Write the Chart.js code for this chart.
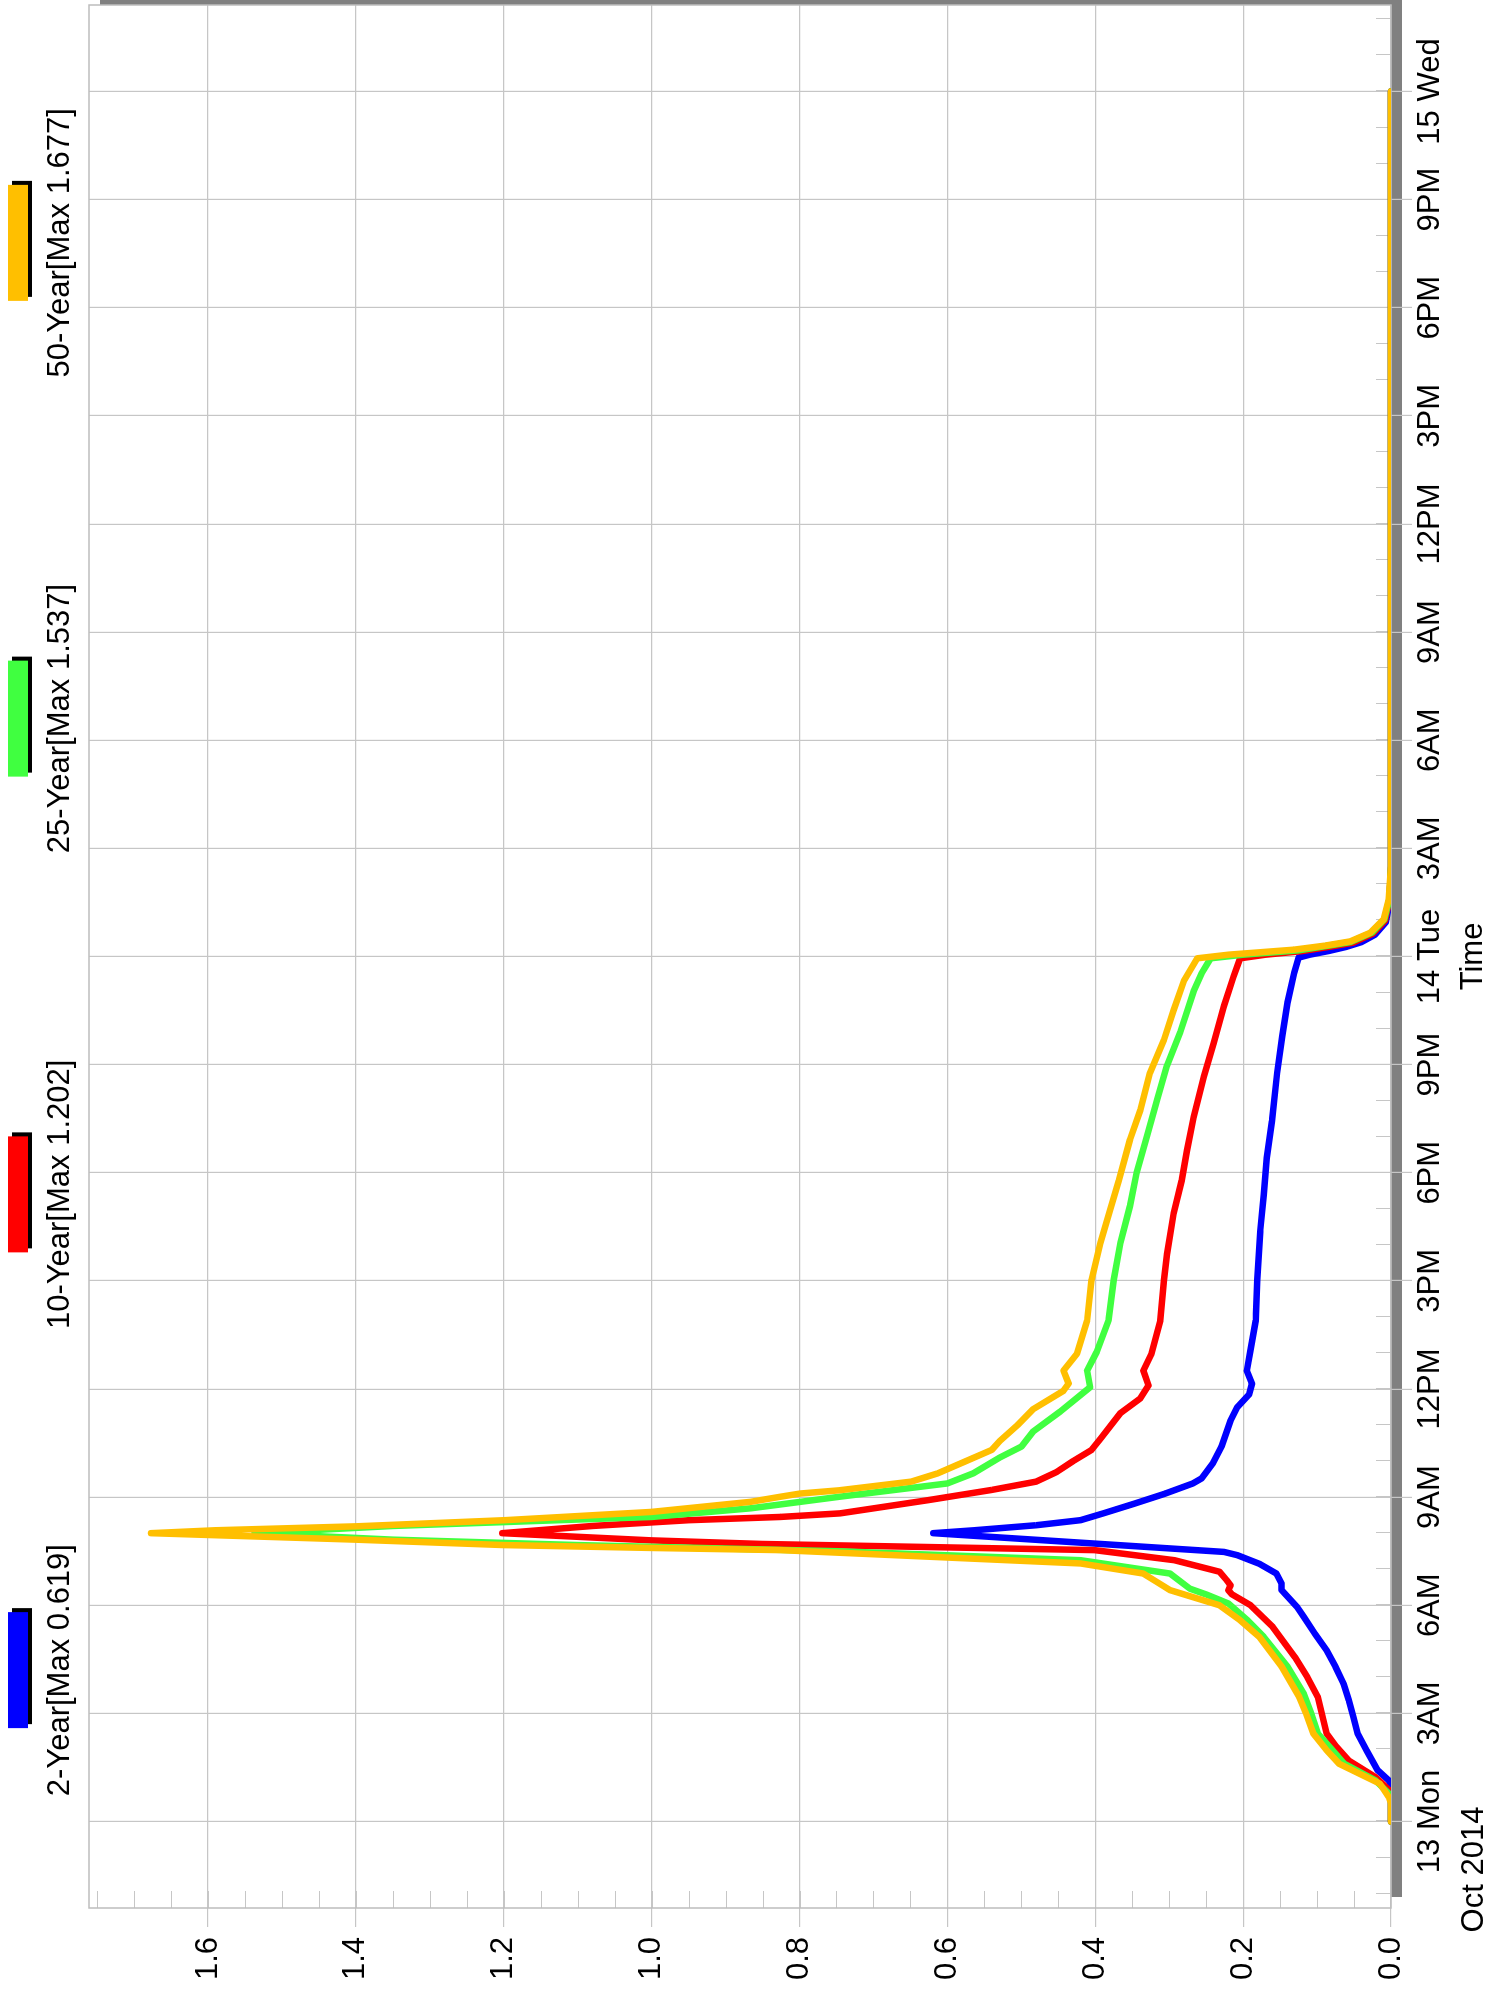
<!DOCTYPE html>
<html>
<head>
<meta charset="utf-8">
<title>Hydrograph</title>
<script src="https://cdn.jsdelivr.net/npm/chart.js@4.4.1/dist/chart.umd.min.js"></script>
<style>
  html, body { margin: 0; padding: 0; background: #ffffff; overflow: hidden; }
  body { width: 1486px; height: 2007px; position: relative; }
  /* the chart is laid out landscape and then turned a quarter left */
  #wrap { position: absolute; left: 0; top: 0; width: 2007px; height: 1486px;
          transform-origin: 0 0; transform: translate(0px, 2007px) rotate(-90deg); }
  canvas { display: block; }
</style>
</head>
<body>
<div id="wrap"><canvas id="hydroChart" width="2007" height="1486"></canvas></div>
<script>
// axis labels
let timeLabels = ['13 Mon','3AM','6AM','9AM','12PM','3PM','6PM','9PM','14 Tue','3AM','6AM','9AM','12PM','3PM','6PM','9PM','15 Wed'];
let hourTicks = [0,3,6,9,12,15,18,21,24,27,30,33,36,39,42,45,48];
let valueTicks = [0,0.2,0.4,0.6,0.8,1.0,1.2,1.4,1.6];
let dateLabel = 'Oct 2014';
let seriesNames = ['2-Year','10-Year','25-Year','50-Year'];
let seriesColors = ['#0000ff','#ff0000','#40ff40','#ffbf00'];

// hours after 13 Oct 00:00, and values
let hours2Year = [0,1.0,1.14,1.42,1.97,2.44,2.9,3.36,3.82,4.29,4.75,5.21,5.68,5.95,6.42,6.6,6.88,7.15,7.39,7.48,7.75,8.0,8.08,8.22,8.36,8.55,8.82,9.1,9.38,9.52,9.94,10.41,11.13,11.49,11.85,12.15,12.51,13.08,13.9,15.03,16.36,17.38,18.41,19.44,20.77,21.79,22.72,23.54,23.97,24.05,24.15,24.27,24.4,24.6,24.95,25.5,26.5,48];
let flow2Year = [0,0,0.003,0.018,0.033,0.045,0.051,0.057,0.064,0.075,0.087,0.103,0.118,0.127,0.148,0.148,0.155,0.178,0.208,0.226,0.43,0.619,0.564,0.48,0.42,0.389,0.347,0.305,0.268,0.256,0.241,0.229,0.217,0.208,0.192,0.188,0.195,0.19,0.183,0.181,0.177,0.172,0.168,0.161,0.154,0.147,0.14,0.131,0.125,0.11,0.085,0.06,0.04,0.022,0.007,0.002,0,0];

let hours10Year = [0,0.7,0.86,1.23,1.69,2.1,2.44,3.45,4.0,4.56,5.4,6.0,6.3,6.42,6.55,6.69,6.93,7.25,7.53,7.7,7.8,8.0,8.2,8.36,8.45,8.55,8.92,9.2,9.43,9.7,10.0,10.31,10.62,11.33,11.74,12.1,12.51,12.97,13.9,15.03,15.74,16.87,17.79,18.62,19.54,20.67,21.59,22.62,23.44,23.95,24.05,24.15,24.28,24.38,24.63,25.0,25.6,26.5,48];
let flow10Year = [0,0,0.002,0.021,0.057,0.075,0.087,0.099,0.113,0.13,0.16,0.19,0.215,0.22,0.217,0.222,0.232,0.293,0.401,0.85,1.0,1.202,1.08,0.95,0.826,0.745,0.625,0.54,0.48,0.452,0.43,0.405,0.393,0.366,0.339,0.328,0.335,0.324,0.312,0.307,0.303,0.294,0.283,0.276,0.267,0.253,0.24,0.226,0.213,0.204,0.17,0.12,0.08,0.052,0.025,0.008,0.002,0,0];

let hours25Year = [0,0.6,0.78,1.14,1.6,2.0,2.44,3.0,3.55,4.3,5.12,5.6,6.05,6.3,6.46,6.88,7.25,7.5,7.67,7.82,8.0,8.2,8.45,8.69,9.01,9.38,9.66,10.1,10.4,10.82,11.38,12.05,12.51,13.03,13.9,15.03,16.05,17.08,18.0,19.03,20.05,20.97,21.9,23.03,23.54,23.95,24.05,24.17,24.3,24.4,24.66,25.03,25.6,26.5,48];
let flow25Year = [0,0,0.003,0.021,0.063,0.08,0.099,0.108,0.118,0.14,0.172,0.195,0.22,0.25,0.272,0.299,0.42,0.75,1.1,1.35,1.537,1.35,1.0,0.866,0.746,0.6,0.565,0.529,0.5,0.484,0.447,0.407,0.411,0.398,0.382,0.375,0.366,0.353,0.344,0.33,0.316,0.303,0.285,0.267,0.256,0.244,0.2,0.125,0.085,0.055,0.026,0.009,0.002,0,0];

let hours50Year = [0,0.5,0.68,1.05,1.6,2.0,2.44,3.0,3.45,4.3,5.12,5.6,6.0,6.42,6.65,6.88,7.16,7.53,7.59,7.67,7.82,7.95,8.0,8.08,8.19,8.36,8.59,8.87,9.01,9.1,9.19,9.43,9.66,9.98,10.31,10.56,11.0,11.44,11.95,12.15,12.51,12.97,13.9,15.03,16.05,16.97,17.79,18.92,19.74,20.77,21.69,22.51,23.33,23.95,24.05,24.19,24.3,24.42,24.66,25.03,25.6,26.5,48];
let flow50Year = [0,0,0.003,0.015,0.07,0.088,0.105,0.115,0.124,0.148,0.178,0.205,0.232,0.299,0.317,0.335,0.42,0.826,1.0,1.2,1.4,1.6,1.677,1.591,1.399,1.199,1.0,0.866,0.826,0.799,0.746,0.649,0.613,0.577,0.54,0.529,0.505,0.484,0.443,0.436,0.443,0.425,0.411,0.405,0.393,0.38,0.368,0.353,0.339,0.326,0.307,0.294,0.28,0.262,0.22,0.131,0.09,0.055,0.028,0.01,0.003,0,0];

let allHours = [hours2Year, hours10Year, hours25Year, hours50Year];
let allFlows = [flow2Year, flow10Year, flow25Year, flow50Year];

let fontName = '"Liberation Sans", Arial, sans-serif';
let gridGray = '#c6c6c6';

function makeDataset(i)
{
    let pts = allHours[i].map(function(h, k){ return { x: h, y: allFlows[i][k] }; });
    let peak = Math.max.apply(null, allFlows[i]);
    return {
        label: seriesNames[i] + '[Max ' + peak.toFixed(3) + ']',
        data: pts,
        borderColor: seriesColors[i],
        backgroundColor: seriesColors[i],
        borderWidth: 6.5,
        borderJoinStyle: 'round',
        borderCapStyle: 'round',
        pointRadius: 0,
        tension: 0,
        clip: 0,
        order: allFlows.length - 1 - i   // last series ends up on top
    };
}

// white page, grey drop shadow behind the plot box
function drawBackdrop(chart)
{
    let ctx = chart.ctx;
    let a = chart.chartArea;
    ctx.save();
    ctx.fillStyle = '#ffffff';
    ctx.fillRect(0, 0, chart.width, chart.height);
    ctx.fillStyle = '#808080';
    ctx.fillRect(a.left + 11, a.top + 11, a.right - a.left, a.bottom - a.top);
    ctx.fillStyle = '#ffffff';
    ctx.fillRect(a.left, a.top, a.right - a.left, a.bottom - a.top);
    ctx.restore();
}

// box outline plus the small inner ticks (every hour, every 0.05)
function drawFrameAndMinorTicks(chart)
{
    let ctx = chart.ctx;
    let a = chart.chartArea;
    let xs = chart.scales.x;
    let ys = chart.scales.y;
    ctx.save();
    ctx.strokeStyle = gridGray;
    ctx.lineWidth = 1;
    ctx.beginPath();
    for (let h = Math.ceil(xs.min); h <= xs.max; h++) {
        let px = Math.round(xs.getPixelForValue(h)) + 0.5;
        ctx.moveTo(px, a.bottom);
        ctx.lineTo(px, a.bottom - 15);
    }
    for (let k = 1; k * 0.05 <= ys.max; k++) {
        let py = Math.round(ys.getPixelForValue(k * 0.05)) + 0.5;
        ctx.moveTo(a.left, py);
        ctx.lineTo(a.left + 17, py);
    }
    ctx.stroke();
    ctx.lineWidth = 1.5;
    ctx.strokeStyle = '#bdbdbd';
    ctx.strokeRect(a.left, a.top, a.right - a.left, a.bottom - a.top);
    ctx.restore();
}

// legend: swatch with black shadow above each label, one column per series
function drawLegendAndDate(chart)
{
    let ctx = chart.ctx;
    let a = chart.chartArea;
    let sets = chart.data.datasets;
    let colW = (a.right - a.left) / sets.length;
    ctx.save();
    ctx.font = '31px ' + fontName;
    ctx.textAlign = 'center';
    ctx.textBaseline = 'alphabetic';
    sets.forEach(function(ds, i){
        let cx = a.left + colW * (i + 0.5);
        ctx.fillStyle = '#000000';
        ctx.fillRect(cx - 58 + 4, 8 + 4, 116, 20);
        ctx.fillStyle = ds.borderColor;
        ctx.fillRect(cx - 58, 8, 116, 20);
        ctx.fillStyle = '#000000';
        ctx.fillText(ds.label, cx, 69);
    });
    // month under the first day label
    ctx.textBaseline = 'middle';
    ctx.fillText(dateLabel, chart.scales.x.getPixelForValue(0) - 48, 1474);
    ctx.restore();
}

let chartDecor = {
    id: 'chartDecor',
    beforeDraw: drawBackdrop,
    beforeDatasetsDraw: drawFrameAndMinorTicks,
    afterDraw: drawLegendAndDate
};

Chart.defaults.font.family = fontName;
Chart.defaults.color = '#000000';

let hydroCtx = document.getElementById('hydroChart');
new Chart(hydroCtx, {
    type: 'line',
    data: { datasets: [0,1,2,3].map(makeDataset) },
    plugins: [chartDecor],
    options: {
        responsive: false,
        animation: false,
        parsing: false,
        events: [],
        layout: { autoPadding: false, padding: { top: 89, right: 5, left: 0, bottom: 0 } },
        plugins: { legend: { display: false }, tooltip: { enabled: false }, title: { display: false } },
        scales: {
            x: {
                type: 'linear',
                position: 'bottom',
                min: -2.4,
                max: 50.4,
                afterBuildTicks: function(scale){ scale.ticks = hourTicks.map(function(v){ return { value: v }; }); },
                afterFit: function(scale){ scale.height = 95; },
                border: { display: false },
                grid: { color: gridGray, lineWidth: 1.2, tickLength: 21, tickColor: gridGray },
                ticks: {
                    autoSkip: false, maxRotation: 0, padding: 0,
                    font: { size: 31 },
                    callback: function(value, index){ return timeLabels[index]; }
                },
                title: { display: true, text: 'Time', font: { size: 31, lineHeight: 0.8 }, padding: 0 }
            },
            y: {
                type: 'linear',
                position: 'left',
                min: 0,
                max: 1.761,
                afterBuildTicks: function(scale){ scale.ticks = valueTicks.map(function(v){ return { value: v }; }); },
                afterFit: function(scale){ scale.width = 99; },
                border: { display: false },
                grid: { color: gridGray, lineWidth: 1.2, tickLength: 19, tickColor: gridGray },
                ticks: {
                    padding: 10,
                    font: { size: 31 },
                    callback: function(value){ return value.toFixed(1); }
                }
            }
        }
    }
});
</script>
</body>
</html>
